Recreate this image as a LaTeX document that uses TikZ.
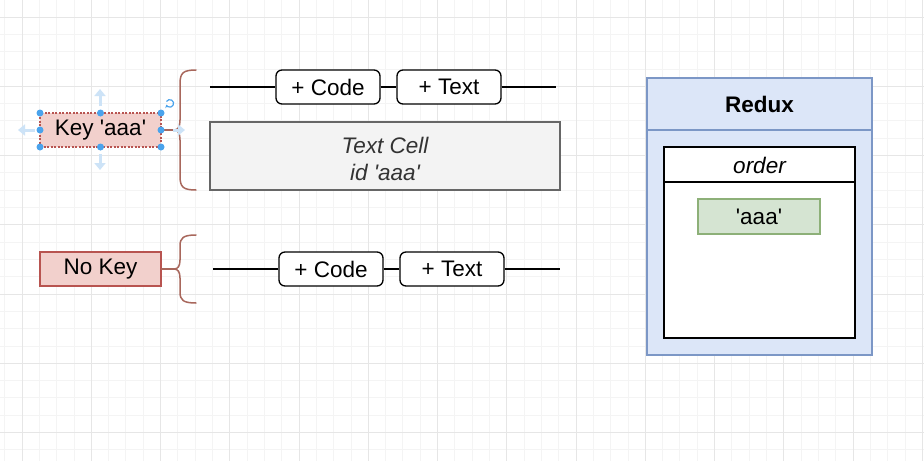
\documentclass[tikz,border=0pt]{standalone}
\usepackage{fontspec}
\setmainfont{Liberation Sans}[Ligatures=TeXOff]
\usetikzlibrary{arrows.meta}
\definecolor{gridminor}{HTML}{F4F4F4}
\definecolor{gridmajor}{HTML}{E6E6E6}
\definecolor{redfill}{HTML}{F2D0CC}
\definecolor{redline}{HTML}{B85450}
\definecolor{bracecol}{HTML}{A8675C}
\definecolor{greyfill}{HTML}{F3F3F3}
\definecolor{greyline}{HTML}{666666}
\definecolor{greytext}{HTML}{333333}
\definecolor{bluefill}{HTML}{DCE6F8}
\definecolor{blueline}{HTML}{7C97C6}
\definecolor{greenfill}{HTML}{D5E4D2}
\definecolor{greenline}{HTML}{8DB078}
\definecolor{handle}{HTML}{4AA3EC}
\definecolor{handlelight}{HTML}{CDE3F7}
\begin{document}
\begin{tikzpicture}[x=1pt,y=-1pt,
  every node/.style={font=\fontsize{22.5}{27}\selectfont, inner sep=0pt},
  keybox/.style={draw=redline, fill=redfill, line width=1.2pt, minimum width=121pt, minimum height=34pt},
  btn/.style={draw=black, fill=white, rounded corners=6pt, line width=1.3pt, minimum width=104pt, minimum height=34pt},
  link/.style={draw=black, line width=1.3pt},
  bracestyle/.style={draw=bracecol, line width=1.5pt, line cap=round},
  hdot/.style={circle, fill=handle, minimum size=7pt, inner sep=0pt},
  harrow/.style={draw=handlelight, line width=3pt, -{Triangle[length=7pt,width=11pt]}},
]
\useasboundingbox (0,0) rectangle (924,461);
\fill[white] (0,0) rectangle (924,461);
% grid
\foreach \i in {-1,...,53} {
  \draw[gridminor, line width=0.8pt] (22+17.3125*\i,0) -- (22+17.3125*\i,461);
}
\foreach \i in {-1,...,27} {
  \draw[gridminor, line width=0.8pt] (0,17+17.3125*\i) -- (924,17+17.3125*\i);
}
\foreach \i in {0,...,13} {
  \draw[gridmajor, line width=0.9pt] (22+69.25*\i,0) -- (22+69.25*\i,461);
}
\foreach \i in {0,...,6} {
  \draw[gridmajor, line width=0.9pt] (0,17+69.25*\i) -- (924,17+69.25*\i);
}

% ---------- left boxes ----------
\node[keybox, dashed, dash pattern=on 2pt off 1.5pt] (key) at (100.5,130) {Key 'aaa'};
\node[keybox] (nokey) at (100.5,269) {No Key};

% braces
\coordinate (tip1) at (174,130);
\coordinate (tip2) at (174,269);
\draw[bracestyle] (196,70) .. controls (183,70) and (180,73) .. (180,84) -- (180,120)
   .. controls (180,127) and (178,130) .. (tip1)
   .. controls (178,130) and (180,133) .. (180,140) -- (180,176)
   .. controls (180,187) and (183,190) .. (196,190);
\draw[bracestyle] (196,235) .. controls (183,235) and (180,238) .. (180,246) -- (180,260)
   .. controls (180,266) and (178,269) .. (tip2)
   .. controls (178,269) and (180,272) .. (180,278) -- (180,292)
   .. controls (180,300) and (183,303) .. (196,303);
\draw[bracestyle] (key.east) -- (tip1);
\draw[bracestyle] (nokey.east) -- (tip2);

% selection handles
\draw[harrow] (100,106) -- (100,89);
\draw[harrow] (100,154) -- (100,170);
\draw[harrow] (35,130) -- (18,130);
\draw[harrow] (173,130) -- (185,130);
\foreach \p in {(40,113),(100.5,113),(161,113),(40,130),(161,130),(40,147),(100.5,147),(161,147)} {
  \node[hdot] at \p {};
}
\draw[handle, line width=1.2pt, -{Stealth[length=3pt,width=4pt]}] (166.5,101.5) arc[start angle=150, end angle=-160, radius=3.8pt];

% ---------- row 1 ----------
\coordinate (r1a) at (210,87);
\coordinate (r1b) at (556,87);
\node[btn] (code1) at (328,87) {+ Code};
\node[btn] (text1) at (449,87) {+ Text};
\draw[link] (r1a) -- (code1.west);
\draw[link] (code1.east) -- (text1.west);
\draw[link] (text1.east) -- (r1b);

\node[draw=greyline, fill=greyfill, line width=1.3pt, minimum width=350pt, minimum height=68pt] (cell) at (385,156) {};
\node[font=\fontsize{22.5}{27}\selectfont\itshape, text=greytext, align=center] (celltext) at (385,158.5) {Text Cell\\id 'aaa'};

% ---------- row 2 ----------
\coordinate (r2a) at (213,269);
\coordinate (r2b) at (560,269);
\node[btn] (code2) at (331,269) {+ Code};
\node[btn] (text2) at (452,269) {+ Text};
\draw[link] (r2a) -- (code2.west);
\draw[link] (code2.east) -- (text2.west);
\draw[link] (text2.east) -- (r2b);

% ---------- Redux ----------
\node[draw=blueline, fill=bluefill, line width=1.5pt, minimum width=225pt, minimum height=277pt] (redux) at (759.5,216.5) {};
\draw[blueline, line width=1.5pt] (647,130) -- (872,130);
\node[font=\fontsize{22.5}{27}\selectfont\bfseries] (reduxlbl) at (759.5,104) {Redux};

\node[draw=black, fill=white, line width=1.5pt, minimum width=191pt, minimum height=191pt] (order) at (759.5,242.5) {};
\draw[black, line width=1.5pt] (664,182) -- (855,182);
\node[font=\fontsize{22.5}{27}\selectfont\itshape] (orderlbl) at (759.5,165) {order};

\node[draw=greenline, fill=greenfill, line width=1.3pt, minimum width=122pt, minimum height=35pt] (aaa) at (759,216.5) {'aaa'};
\end{tikzpicture}
\end{document}
